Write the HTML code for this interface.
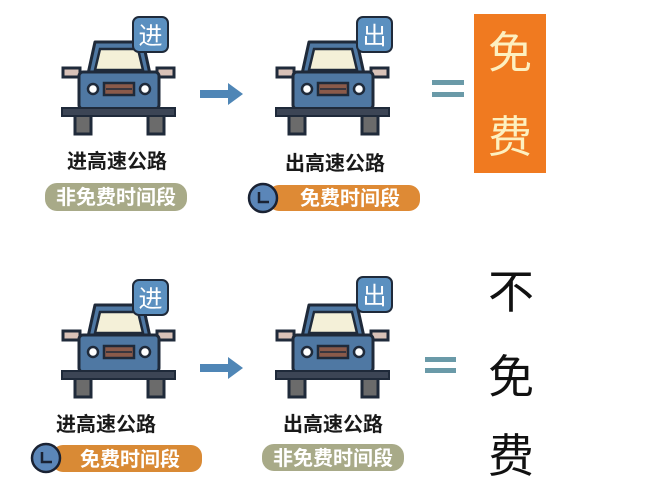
<!DOCTYPE html>
<html><head><meta charset="utf-8"><style>
html,body{margin:0;padding:0;background:#fff;width:648px;height:484px;overflow:hidden}
svg text{font-family:"Liberation Sans","Noto Sans CJK SC",sans-serif}
</style></head><body>
<svg width="648" height="484" viewBox="0 0 648 484" xmlns="http://www.w3.org/2000/svg">
<defs>
<g id="car">
  <rect x="75" y="112" width="16" height="22" fill="#6b6b6b" stroke="#1f2a3a" stroke-width="3"/>
  <rect x="148" y="112" width="16" height="22" fill="#6b6b6b" stroke="#1f2a3a" stroke-width="3"/>
  <rect x="63" y="68" width="17" height="9" fill="#d9c2b8" stroke="#1f2a3a" stroke-width="3"/>
  <rect x="157" y="68" width="17" height="9" fill="#d9c2b8" stroke="#1f2a3a" stroke-width="3"/>
  <path d="M88 74 L95 42 L143 42 L150 74 Z" fill="#4f78a3" stroke="#1f2a3a" stroke-width="3" stroke-linejoin="round"/>
  <path d="M95 70 L100 49 L138 49 L143 70 Z" fill="#f4f0d8" stroke="#1f2a3a" stroke-width="2.5"/>
  <rect x="79" y="72" width="80" height="37" rx="4" fill="#4f78a3" stroke="#1f2a3a" stroke-width="3"/>
  <circle cx="93" cy="89" r="5" fill="#fff" stroke="#1f2a3a" stroke-width="2.5"/>
  <circle cx="145" cy="89" r="5" fill="#fff" stroke="#1f2a3a" stroke-width="2.5"/>
  <rect x="104" y="83" width="30" height="12" fill="#8a5a4a" stroke="#1f2a3a" stroke-width="2.5"/>
  <line x1="106" y1="89" x2="132" y2="89" stroke="#1f2a3a" stroke-width="1.5"/>
  <rect x="62" y="108" width="113" height="8" fill="#3c4555" stroke="#1f2a3a" stroke-width="2"/>
</g>
<g id="clk">
  <circle cx="0" cy="0" r="14" fill="#5b86b8" stroke="#1a2233" stroke-width="2.5"/>
  <path d="M-4 -6 L-4 4 L6 4" fill="none" stroke="#1a2233" stroke-width="2.5"/>
</g>
</defs>

<use href="#car"/>
<rect x="133" y="17" width="35" height="35" rx="6" fill="#5b90c0" stroke="#1f2a3a" stroke-width="2"/>
<text x="150.5" y="44" font-size="24" fill="#fff" text-anchor="middle">进</text>
<text x="117" y="168" font-size="20" font-weight="bold" fill="#1a1a1a" text-anchor="middle">进高速公路</text>
<rect x="45" y="183" width="142" height="28" rx="12" fill="#a8aa88"/>
<text x="116" y="204" font-size="20" font-weight="bold" fill="#fff" text-anchor="middle">非免费时间段</text>

<path d="M200 90 L228 90 L228 83 L243 94 L228 105 L228 98 L200 98 Z" fill="#4f86b6"/>

<use href="#car" transform="translate(214,0)"/>
<rect x="357" y="17" width="35" height="35" rx="6" fill="#5b90c0" stroke="#1f2a3a" stroke-width="2"/>
<text x="374.5" y="44" font-size="24" fill="#fff" text-anchor="middle">出</text>
<text x="335" y="170" font-size="20" font-weight="bold" fill="#1a1a1a" text-anchor="middle">出高速公路</text>
<rect x="268" y="185" width="152" height="26" rx="11" fill="#de8a35"/>
<use href="#clk" transform="translate(263,198)"/>
<text x="350" y="205" font-size="20" font-weight="bold" fill="#fff" text-anchor="middle">免费时间段</text>

<rect x="432" y="80" width="32" height="5" fill="#6a9aa8"/>
<rect x="432" y="92" width="32" height="5" fill="#6a9aa8"/>

<rect x="474" y="14" width="72" height="159" fill="#f07a20"/>
<text x="510" y="68" font-size="44" fill="#fdf0c0" text-anchor="middle">免</text>
<text x="510" y="152" font-size="44" fill="#fdf0c0" text-anchor="middle">费</text>

<use href="#car" transform="translate(0,263)"/>
<rect x="133" y="280" width="35" height="35" rx="6" fill="#5b90c0" stroke="#1f2a3a" stroke-width="2"/>
<text x="150.5" y="307" font-size="24" fill="#fff" text-anchor="middle">进</text>
<text x="106" y="431" font-size="20" font-weight="bold" fill="#1a1a1a" text-anchor="middle">进高速公路</text>
<rect x="52" y="445" width="150" height="27" rx="11" fill="#d98a35"/>
<use href="#clk" transform="translate(46,458)"/>
<text x="130" y="466" font-size="20" font-weight="bold" fill="#fff" text-anchor="middle">免费时间段</text>

<path d="M200 364 L228 364 L228 357 L243 368 L228 379 L228 372 L200 372 Z" fill="#4f86b6"/>

<use href="#car" transform="translate(214,263)"/>
<rect x="357" y="277" width="35" height="35" rx="6" fill="#5b90c0" stroke="#1f2a3a" stroke-width="2"/>
<text x="374.5" y="304" font-size="24" fill="#fff" text-anchor="middle">出</text>
<text x="333" y="431" font-size="20" font-weight="bold" fill="#1a1a1a" text-anchor="middle">出高速公路</text>
<rect x="262" y="444" width="142" height="27" rx="12" fill="#a8aa88"/>
<text x="333" y="465" font-size="20" font-weight="bold" fill="#fff" text-anchor="middle">非免费时间段</text>

<rect x="425" y="357" width="31" height="5" fill="#6a9aa8"/>
<rect x="425" y="368" width="31" height="5" fill="#6a9aa8"/>

<text x="511" y="308" font-size="46" fill="#111" text-anchor="middle">不</text>
<text x="511" y="393" font-size="46" fill="#111" text-anchor="middle">免</text>
<text x="511" y="472" font-size="46" fill="#111" text-anchor="middle">费</text>
</svg>
</body></html>
